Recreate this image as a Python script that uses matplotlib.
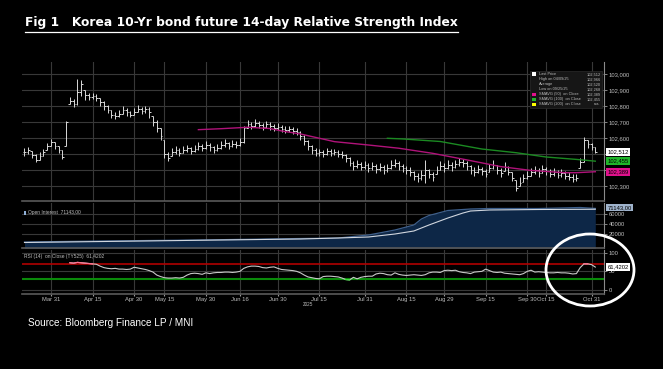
import numpy as np
import pandas as pd
import matplotlib
matplotlib.use("Agg")
import matplotlib.pyplot as plt
from matplotlib.patches import Ellipse, Rectangle
from matplotlib.lines import Line2D

# ---------------- data ----------------
holidays = ["2025-05-01", "2025-05-05", "2025-05-06", "2025-06-03", "2025-06-06",
            "2025-10-03", "2025-10-06", "2025-10-07", "2025-10-08", "2025-10-09", "2025-10-10"]
days = pd.bdate_range("2025-03-20", "2025-11-03")
days = days[~days.isin(pd.to_datetime(holidays))]

close = [102.513, 102.525, 102.494, 102.463, 102.488, 102.513, 102.550, 102.575, 102.550, 102.525,
         102.481, 102.700, 102.831, 102.813, 102.888, 102.938, 102.869, 102.856, 102.863, 102.850,
         102.825, 102.800, 102.775, 102.744, 102.738, 102.750, 102.775, 102.763, 102.744, 102.763,
         102.781, 102.769, 102.781, 102.763, 102.700, 102.663, 102.613, 102.500, 102.475, 102.513,
         102.525, 102.506, 102.525, 102.538, 102.519, 102.531, 102.550, 102.538, 102.556, 102.544,
         102.525, 102.538, 102.556, 102.569, 102.550, 102.563, 102.556, 102.575, 102.663, 102.688,
         102.675, 102.694, 102.681, 102.669, 102.688, 102.675, 102.663, 102.669, 102.656, 102.650,
         102.656, 102.644, 102.638, 102.613, 102.581, 102.550, 102.525, 102.506, 102.513, 102.500,
         102.519, 102.506, 102.513, 102.500, 102.494, 102.475, 102.444, 102.425, 102.438, 102.419,
         102.431, 102.413, 102.425, 102.406, 102.419, 102.400, 102.413, 102.431, 102.444, 102.425,
         102.413, 102.400, 102.388, 102.363, 102.350, 102.369, 102.400, 102.375, 102.356, 102.400,
         102.425, 102.413, 102.431, 102.419, 102.438, 102.450, 102.444, 102.425, 102.400, 102.388,
         102.406, 102.394, 102.375, 102.413, 102.431, 102.400, 102.381, 102.419, 102.388, 102.350,
         102.288, 102.319, 102.350, 102.363, 102.388, 102.400, 102.381, 102.406, 102.394, 102.375,
         102.388, 102.369, 102.381, 102.363, 102.356, 102.344, 102.350, 102.450, 102.588, 102.563,
         102.544, 102.512]
high = [102.538, 102.544, 102.519, 102.500, 102.513, 102.531, 102.569, 102.594, 102.575, 102.550,
        102.525, 102.706, 102.856, 102.844, 102.966, 102.963, 102.900, 102.881, 102.881, 102.875,
        102.850, 102.831, 102.806, 102.775, 102.763, 102.775, 102.800, 102.788, 102.769, 102.788,
        102.806, 102.794, 102.800, 102.794, 102.738, 102.713, 102.663, 102.588, 102.513, 102.538,
        102.550, 102.538, 102.550, 102.556, 102.544, 102.556, 102.575, 102.563, 102.581, 102.569,
        102.550, 102.563, 102.581, 102.594, 102.575, 102.588, 102.581, 102.600, 102.675, 102.713,
        102.700, 102.719, 102.706, 102.694, 102.706, 102.700, 102.688, 102.694, 102.681, 102.675,
        102.675, 102.669, 102.663, 102.644, 102.619, 102.588, 102.556, 102.538, 102.531, 102.525,
        102.538, 102.531, 102.531, 102.525, 102.519, 102.500, 102.481, 102.456, 102.463, 102.450,
        102.456, 102.444, 102.450, 102.438, 102.444, 102.431, 102.438, 102.463, 102.469, 102.456,
        102.438, 102.425, 102.419, 102.394, 102.381, 102.400, 102.463, 102.406, 102.388, 102.425,
        102.456, 102.444, 102.463, 102.450, 102.463, 102.475, 102.469, 102.456, 102.431, 102.419,
        102.431, 102.419, 102.406, 102.438, 102.463, 102.431, 102.413, 102.450, 102.425, 102.388,
        102.338, 102.356, 102.375, 102.394, 102.413, 102.425, 102.413, 102.431, 102.419, 102.406,
        102.413, 102.400, 102.406, 102.394, 102.388, 102.375, 102.375, 102.475, 102.606, 102.588,
        102.569, 102.544]
low = [102.488, 102.500, 102.475, 102.450, 102.463, 102.488, 102.525, 102.550, 102.531, 102.506,
       102.469, 102.550, 102.813, 102.794, 102.806, 102.863, 102.838, 102.838, 102.844, 102.831,
       102.800, 102.775, 102.756, 102.725, 102.719, 102.731, 102.750, 102.738, 102.731, 102.744,
       102.763, 102.750, 102.756, 102.725, 102.675, 102.638, 102.588, 102.475, 102.456, 102.488,
       102.500, 102.488, 102.506, 102.513, 102.500, 102.513, 102.525, 102.519, 102.531, 102.519,
       102.506, 102.519, 102.531, 102.544, 102.531, 102.544, 102.538, 102.550, 102.569, 102.663,
       102.656, 102.669, 102.663, 102.650, 102.663, 102.650, 102.644, 102.650, 102.638, 102.631,
       102.638, 102.625, 102.619, 102.588, 102.556, 102.525, 102.500, 102.488, 102.488, 102.481,
       102.494, 102.488, 102.494, 102.481, 102.475, 102.450, 102.425, 102.400, 102.413, 102.400,
       102.406, 102.388, 102.400, 102.381, 102.394, 102.375, 102.388, 102.406, 102.419, 102.400,
       102.388, 102.375, 102.363, 102.338, 102.325, 102.338, 102.319, 102.350, 102.331, 102.375,
       102.400, 102.388, 102.406, 102.394, 102.413, 102.425, 102.419, 102.400, 102.375, 102.363,
       102.381, 102.369, 102.356, 102.388, 102.406, 102.375, 102.356, 102.394, 102.369, 102.331,
       102.268, 102.300, 102.325, 102.344, 102.363, 102.375, 102.356, 102.381, 102.369, 102.356,
       102.363, 102.350, 102.356, 102.344, 102.338, 102.325, 102.331, 102.413, 102.450, 102.538,
       102.525, 102.506]

sma50_dates = ["2025-05-28", "2025-06-09", "2025-06-18", "2025-06-26", "2025-07-01", "2025-07-08",
               "2025-07-21", "2025-08-01", "2025-08-13", "2025-08-26", "2025-09-08", "2025-09-19",
               "2025-10-01", "2025-10-22", "2025-10-27", "2025-11-03"]
sma50 = [102.652, 102.658, 102.667, 102.659, 102.644, 102.625, 102.577, 102.556, 102.536, 102.504,
         102.463, 102.421, 102.397, 102.383, 102.383, 102.389]
sma100_dates = ["2025-08-08", "2025-08-14", "2025-08-28", "2025-09-12", "2025-09-25", "2025-10-15",
                "2025-10-27", "2025-11-03"]
sma100 = [102.598, 102.594, 102.578, 102.531, 102.508, 102.481, 102.466, 102.455]

oi_dates = ["2025-03-20", "2025-04-17", "2025-05-28", "2025-07-08", "2025-07-22", "2025-08-01",
            "2025-08-12", "2025-08-19", "2025-08-21", "2025-08-25", "2025-09-01", "2025-09-09",
            "2025-09-16", "2025-10-13", "2025-10-28", "2025-11-03"]
oi = [4000, 6000, 8000, 11000, 12000, 18000, 28000, 38000, 50000, 57000, 67000, 70000,
      71000, 71000, 73000, 71143]
oi_avg_dates = ["2025-03-20", "2025-07-08", "2025-07-22", "2025-08-01", "2025-08-12", "2025-08-19",
                "2025-08-25", "2025-09-01", "2025-09-05", "2025-09-09", "2025-09-16", "2025-10-13",
                "2025-11-03"]
oi_avg = [3000, 10000, 12000, 14000, 20000, 26000, 38000, 52000, 62000, 66000, 68000, 69000, 69500]

rsi_start = "2025-04-07"
rsi = [73, 72, 74, 73, 72, 71, 70, 69, 64, 60, 58, 57, 58, 56, 56, 55, 56, 61, 59, 57,
       55, 52, 48, 40, 36, 33, 32, 32, 33, 32, 34, 40, 44, 45, 44, 42, 46, 44, 46, 47,
       47, 48, 48, 47, 48, 50, 58, 62, 64, 64, 63, 60, 59, 61, 62, 58, 55, 54, 53, 52,
       50, 46, 40, 35, 33, 31, 30, 36, 37, 37, 36, 35, 32, 28, 27, 34, 30, 34, 36, 37,
       37, 43, 45, 44, 41, 40, 46, 42, 40, 39, 40, 41, 40, 39, 41, 46, 48, 48, 47, 52,
       53, 52, 53, 49, 47, 46, 44, 48, 49, 50, 56, 52, 48, 47, 48, 45, 44, 43, 42, 41,
       44, 50, 53, 48, 49, 48, 47, 46, 46, 47, 46, 46, 45, 43, 44, 60, 70, 70, 68, 61.42]

tick_dates = ["2025-03-31", "2025-04-15", "2025-04-30", "2025-05-15", "2025-05-30", "2025-06-16",
              "2025-06-30", "2025-07-15", "2025-07-31", "2025-08-15", "2025-08-29", "2025-09-15",
              "2025-09-30", "2025-10-15", "2025-10-31"]
tick_labels = ["Mar 31", "Apr 15", "Apr 30", "May 15", "May 30", "Jun 16", "Jun 30", "Jul 15",
               "Jul 31", "Aug 15", "Aug 29", "Sep 15", "Sep 30", "Oct 15", "Oct 31"]

legend_rows = [("Last Price", "102,512"), ("High on 04/09/25", "102,966"), ("Average", "102,520"),
               ("Low on 09/25/25", "102,268"), ("SMAVG (50)  on Close", "102,389"),
               ("SMAVG (100)  on Close", "102,455"), ("SMAVG (200)  on Close", "n.a.")]

# ---------------- figure ----------------
W, H, DPI = 663, 369, 100
fig = plt.figure(figsize=(W / DPI, H / DPI), dpi=DPI, facecolor="black")
plt.rcParams["font.family"] = ["Liberation Sans", "DejaVu Sans"]

def axpix(x0, y0, x1, y1):
    a = fig.add_axes([x0 / W, 1 - y1 / H, (x1 - x0) / W, (y1 - y0) / H])
    a.set_facecolor("black")
    return a

def idx(dates):
    return days.get_indexer(pd.to_datetime(dates))

GRID = "#383838"
TXT = "#bdbdbd"
FS = 4.2
XL = (-0.66, 153.3)

ax = axpix(22, 62, 604, 201)
ax_oi = axpix(22, 203, 604, 248)
ax_r = axpix(22, 250, 604, 294)

tick_pos = idx(tick_dates)
for a in (ax, ax_oi, ax_r):
    a.set_xlim(*XL)
    a.set_xticks(tick_pos)
    a.grid(True, color=GRID, lw=0.8)
    a.set_axisbelow(True)
    for s in ("left", "top"):
        a.spines[s].set_visible(False)
    a.spines["bottom"].set_color("#5a5a5a")
    a.spines["bottom"].set_linewidth(1.2)
    a.spines["right"].set_color("#8a8a8a")
    a.spines["right"].set_linewidth(0.8)
    a.yaxis.tick_right()
    a.tick_params(axis="y", colors="#9a9a9a", labelcolor=TXT, labelsize=FS, length=2, width=0.6, pad=1.5)
    a.tick_params(axis="x", length=0, labelbottom=False)

# price bars
x = np.arange(len(days))
c = np.array(close); hi = np.array(high); lo = np.array(low)
op = np.r_[c[0], c[:-1]]
op = np.clip(op, lo, hi)
BAR = "#d9d9d9"
ax.vlines(x, lo, hi, color=BAR, lw=0.7)
ax.hlines(op, x - 0.45, x, color=BAR, lw=0.7)
ax.hlines(c, x, x + 0.45, color=BAR, lw=0.7)
ax.plot(idx(sma50_dates), sma50, color="#b0137a", lw=1.0)
ax.plot(idx(sma100_dates), sma100, color="#1b8a22", lw=1.0)
ax.set_ylim(102.206, 103.075)
pt = [102.3 + 0.1 * k for k in range(8)]
ax.set_yticks(pt)
# labels at 102,400 / 102,500 are covered by the value tags in the original
ax.set_yticklabels(["" if round(v, 1) in (102.4, 102.5) else f"{v:.3f}".replace(".", ",") for v in pt])

# value tags on right
def tag(a, yv, text, fc, tc="black"):
    a.annotate(text, xy=(1.0, yv), xycoords=("axes fraction", "data"), xytext=(2.5, 0),
               textcoords="offset points", fontsize=FS, color=tc, va="center", ha="left",
               bbox=dict(boxstyle="square,pad=0.25", fc=fc, ec="none"), annotation_clip=False)

tag(ax, close[-1], "102,512", "white")
tag(ax, sma100[-1], "102,455", "#1fb52a")
tag(ax, sma50[-1], "102,389", "#e0118c")

# legend box
leg = Rectangle((0.873, 0.669), 0.124, 0.266, transform=ax.transAxes, fc="#161616", ec="#2c2c2c",
                lw=0.5, zorder=5)
ax.add_patch(leg)
sym_colors = ["white", None, None, None, "#e0118c", "#1fb52a", "#ffff00"]
for k, (lab, val) in enumerate(legend_rows):
    yy = 0.9115 - k * 0.036
    if sym_colors[k]:
        ax.add_patch(Rectangle((0.877, yy - 0.012), 0.007, 0.025, transform=ax.transAxes,
                               fc=sym_colors[k], ec="none", zorder=6))
    ax.text(0.888, yy, lab, transform=ax.transAxes, fontsize=2.8, color=TXT, va="center", zorder=6)
    ax.text(0.994, yy, val, transform=ax.transAxes, fontsize=2.8, color=TXT, va="center",
            ha="right", zorder=6)

# open interest
oi_x = idx(oi_dates)
ax_oi.fill_between(oi_x, oi, -20000, color="#0d2747", lw=0)
ax_oi.plot(oi_x, oi, color="#3d5f8c", lw=0.9)
ax_oi.plot(idx(oi_avg_dates), oi_avg, color="#d0d6de", lw=0.8)
ax_oi.set_ylim(-8000, 82000)
ax_oi.set_yticks([20000, 40000, 60000])
ax_oi.set_yticklabels(["20000", "40000", "60000"])
ax_oi.add_patch(Rectangle((0.003, 0.73), 0.004, 0.1, transform=ax_oi.transAxes, fc="#8fb0d8", ec="none"))
ax_oi.text(0.01, 0.78, "Open Interest  71143,00", transform=ax_oi.transAxes, fontsize=3.5,
           color=TXT, va="center")
tag(ax_oi, 73000, "71143,00", "#9fb3cc")

# RSI
rx = np.arange(len(rsi)) + idx([rsi_start])[0]
r = np.array(rsi, dtype=float)
ax_r.axhline(70, color="#b00000", lw=1.2)
ax_r.axhline(30, color="#0a8a0a", lw=1.5)
ax_r.plot(rx, r, color="#c8c8c8", lw=0.8)
ax_r.plot(rx, np.where(r >= 70, r, np.nan), color="#ff6f8f", lw=0.9)
ax_r.plot(rx, np.where(r <= 30, r, np.nan), color="#33dd33", lw=0.9)
ax_r.set_ylim(-10.7, 107.2)
ax_r.set_yticks([0, 50, 100])
ax_r.set_yticklabels(["0", "50", "100"])
ax_r.text(0.004, 0.86, "RSI (14)  on Close (TY525)  61,4202", transform=ax_r.transAxes,
          fontsize=3.5, color=TXT, va="center")
tag(ax_r, rsi[-1], "61,4202", "white")
ax_r.tick_params(axis="x", length=1.5, color="#9a9a9a", labelbottom=True, labelsize=FS,
                 labelcolor=TXT, pad=1)
ax_r.set_xticklabels(tick_labels)
ax_r.text(idx(["2025-07-15"])[0] - 3, -38, "2025", fontsize=3.3, color=TXT, ha="center",
          va="center", clip_on=False)

# title & source
t = fig.text(25 / W, 1 - 22.5 / H, "Fig 1   Korea 10-Yr bond future 14-day Relative Strength Index",
             fontsize=8.85, fontweight="bold", color="white", va="center", ha="left",
             family="DejaVu Sans")
fig.canvas.draw()
bb = t.get_window_extent()
fig.add_artist(Line2D([bb.x0 / W, bb.x1 / W], [1 - 31.5 / H, 1 - 31.5 / H], color="white", lw=0.9))
fig.text(28 / W, 1 - 323 / H, "Source: Bloomberg Finance LP / MNI", fontsize=7.2, color="white",
         va="center", ha="left")

# highlight circle
fig.add_artist(Ellipse((590 / W, 1 - 270 / H), 88 / W, 72 / H, transform=fig.transFigure,
                       fill=False, ec="white", lw=2.0))

fig.savefig("out.png", dpi=DPI, facecolor="black")
